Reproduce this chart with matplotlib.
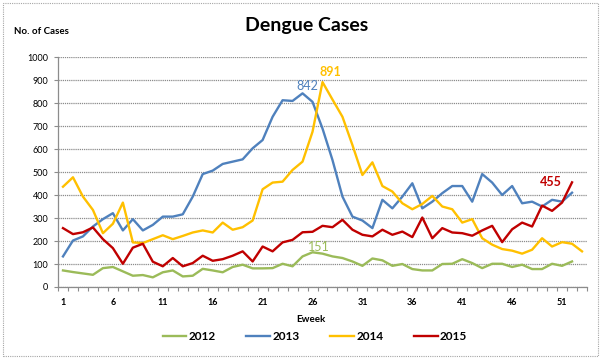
import matplotlib
matplotlib.use("Agg")
import matplotlib.pyplot as plt
from matplotlib.lines import Line2D
from matplotlib.patches import Rectangle

plt.rcParams["font.family"] = ["Lato", "DejaVu Sans"]

# weekly dengue cases
cases_2012 = [72, 65, 59, 53, 82, 87, 68, 49, 52, 42, 64, 72, 46, 49,
              79, 72, 64, 87, 97, 81, 81, 82, 101, 90, 133, 151,
              145, 133, 126, 111, 92, 124, 116, 92, 100, 78, 72, 72, 100,
              101, 121, 104, 82, 101, 101, 87, 97, 78, 78, 101, 92, 111]
cases_2013 = [133, 202, 220, 263, 295, 321, 246, 295, 246, 270, 306, 306, 316, 393,
              491, 506, 535, 545, 555, 603, 639, 740, 812, 809, 842, 805, 689,
              552, 393, 306, 289, 256, 379, 342, 393, 451, 342, 371, 408,
              439, 439, 371, 491, 454, 400, 439, 364, 371, 350, 379, 371, 410]
cases_2014 = [436, 477, 393, 335, 234, 275, 367, 194, 191, 208, 225, 208, 222, 237,
              246, 237, 280, 249, 260, 289, 425, 454, 458, 509, 545, 675,
              891, 815, 740, 617, 487, 542, 439, 415, 364, 338, 361, 396, 350, 338,
              280, 295, 212, 184, 165, 158, 145, 162, 212, 176, 195, 188, 155]
cases_2015 = [256, 230, 238, 259, 208, 169, 101, 171, 188, 110, 90, 126, 90, 104,
              136, 114, 121, 136, 155, 111, 176, 155, 194, 205, 238, 240,
              266, 260, 292, 249, 227, 220, 249, 227, 241, 217, 302, 212, 256,
              237, 234, 223, 246, 266, 195, 251, 280, 263, 354, 331, 367, 455]

years = ["2012", "2013", "2014", "2015"]
colors = ["#9BBB59", "#4F81BD", "#FFC000", "#C00000"]
series = [cases_2012, cases_2013, cases_2014, cases_2015]

n_weeks = 53
xtick_weeks = list(range(1, 52, 5))

W, H = 605, 360
fig = plt.figure(figsize=(W / 100, H / 100), dpi=100)
ax = fig.add_axes([58 / W, 1 - 287 / H, 529 / W, 230 / H])

for vals, col in zip(series, colors):
    weeks = range(1, len(vals) + 1)
    ax.plot(weeks, vals, color=col, lw=1.7, solid_joinstyle="round", zorder=3)

# data labels for the peaks / last value
def label(series_vals, week, col, dx, dy, weight="normal"):
    v = series_vals[week - 1]
    ax.annotate(str(v), (week, v), xytext=(dx, dy), textcoords="offset pixels",
                ha="center", va="center", color=col, fontsize=9, fontweight=weight)

label(cases_2013, 25, colors[1], 5, 7)
label(cases_2014, 27, colors[2], 8, 10, "bold")
label(cases_2012, 26, colors[0], 6, 5)
label(cases_2015, 52, colors[3], -21, 0, "bold")

ax.set_xlim(0.5, n_weeks + 0.5)
ax.set_ylim(0, 1000)
ax.set_yticks(range(0, 1001, 100))
ax.set_xticks(xtick_weeks)
ax.set_xticks([w + 0.5 for w in range(0, n_weeks + 1)], minor=True)

ax.yaxis.grid(True, color="#8c8c8c", lw=0.9, ls=(0, (1, 0.7)))
ax.set_axisbelow(True)
for s in ["top", "right"]:
    ax.spines[s].set_visible(False)
for s in ["left", "bottom"]:
    ax.spines[s].set_color("#8c8c8c")
    ax.spines[s].set_linewidth(0.9)

ax.tick_params(axis="y", length=3, width=0.8, color="#8c8c8c", labelsize=6.5, pad=4)
ax.tick_params(axis="x", which="major", length=0, labelsize=6.5, pad=8)
ax.tick_params(axis="x", which="minor", length=3, width=0.8, color="#8c8c8c")
for t in ax.get_xticklabels():
    t.set_fontweight("bold")

fig.text(307 / W, 1 - 25 / H, "Dengue Cases", ha="center", va="center",
         fontsize=14, fontweight="bold")
fig.text(14 / W, 1 - 32 / H, "No. of Cases", ha="left", va="center",
         fontsize=7, fontweight="bold")
fig.text(311 / W, 1 - 319 / H, "Eweek", ha="center", va="center",
         fontsize=7, fontweight="bold")

handles = [Line2D([], [], color=c, lw=1.7) for c in colors]
fig.legend(handles, years, loc="center", bbox_to_anchor=(315 / W, 1 - 337 / H),
           ncol=4, frameon=False, prop={"size": 8.5, "weight": "bold"},
           handlelength=2.0, handletextpad=0.2, columnspacing=2.6)

fig.patches.append(Rectangle((3 / W, 4 / H), 595 / W, 353 / H, transform=fig.transFigure,
                             fill=False, edgecolor="#a6a6a6", lw=0.8, ls=(0, (1, 1))))

fig.savefig("out.png", dpi=100)
